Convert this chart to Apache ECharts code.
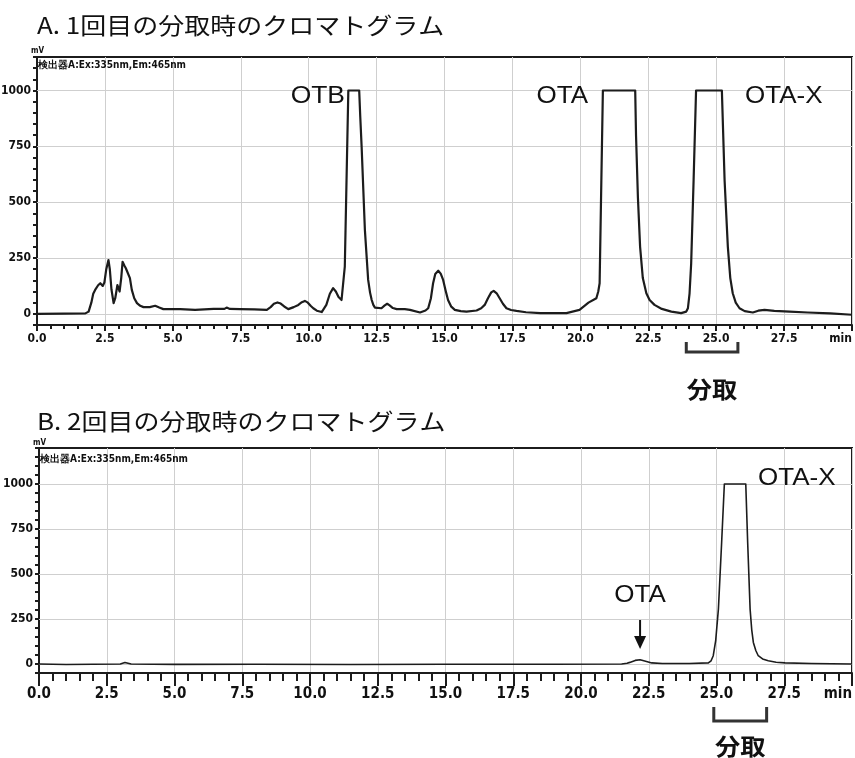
<!DOCTYPE html>
<html><head><meta charset="utf-8">
<script src="https://cdn.jsdelivr.net/npm/echarts@6/dist/echarts.min.js"></script>
<style>html,body{margin:0;padding:0;background:#fff}#c{width:855px;height:758px}</style>
</head><body><div id="c"></div>
<script>
// ---- data ----
const timesA = [0,1.0,1.78,1.9,2.0,2.07,2.14,2.25,2.33,2.42,2.48,2.55,2.63,2.68,2.74,2.82,2.88,2.96,3.04,3.1,3.15,3.22,3.27,3.33,3.42,3.49,3.58,3.68,3.8,3.92,4.15,4.35,4.5,4.65,5.27,5.82,6.5,6.9,6.98,7.1,7.47,8.0,8.46,8.6,8.72,8.85,8.97,9.1,9.25,9.45,9.62,9.75,9.86,9.97,10.08,10.17,10.3,10.48,10.55,10.65,10.78,10.9,11.0,11.1,11.21,11.33,11.46,11.86,11.9,11.95,12.07,12.19,12.26,12.32,12.38,12.44,12.68,12.8,12.89,12.98,13.1,13.24,13.54,13.73,14.1,14.3,14.4,14.5,14.58,14.66,14.77,14.86,14.95,15.04,15.13,15.25,15.38,15.6,15.81,16.18,16.35,16.48,16.6,16.72,16.81,16.92,17.03,17.15,17.28,17.45,17.65,18.0,18.53,19.49,19.97,20.3,20.59,20.66,20.71,20.76,20.83,22.02,22.05,22.12,22.2,22.3,22.43,22.55,22.73,23.0,23.35,23.71,23.9,23.96,24.02,24.08,24.17,24.26,25.21,25.31,25.43,25.52,25.61,25.72,25.86,26.05,26.35,26.55,26.78,27.14,27.7,28.37,29.2,30];
const signalA = [0,1,2,10,50,90,107,128,137,125,140,200,241,200,110,48,70,129,100,160,233,215,204,211,160,107,70,48,36,30,30,36,28,21,21,18,22,22,28,22,21,20,18,30,45,51,46,33,21,30,40,52,58,50,35,25,14,8,15,40,90,115,100,75,62,211,1000,1000,880,747,375,152,95,62,40,28,25,38,45,38,26,21,21,18,6,15,25,70,137,178,193,180,152,105,62,32,18,12,10,15,25,40,70,96,103,92,70,45,25,17,13,7,3,3,18,50,70,100,137,500,1000,1000,800,520,300,160,92,62,40,22,10,3,10,25,90,226,600,1000,1000,598,300,160,92,50,25,12,6,14,18,13,10,6,2,-4];
const timesB = [0,1.0,3.0,3.17,3.4,5.0,8.0,11.5,15.0,19.0,21.5,21.7,21.8,22.0,22.18,22.35,22.61,23.0,24.0,24.7,24.8,24.88,24.97,25.07,25.19,25.29,26.08,26.15,26.24,26.3,26.36,26.45,26.54,26.7,26.91,27.2,27.53,28.5,30];
const signalB = [0,-3,0,8,0,-2,-1,-3,-1,-1,0,4,9,20,24,17,6,3,3,6,18,46,130,305,676,1000,1000,676,305,190,120,75,46,28,18,10,6,3,0];
const yLabelValues = [0,250,500,750,1000];
const fractionA = [23.9,25.8];
const fractionB = [24.9,26.85];
const otaMarkerB = 22.18;
const titles = ['A. 1回目の分取時のクロマトグラム','B. 2回目の分取時のクロマトグラム'];
const detectorText = '検出器A:Ex:335nm,Em:465nm';
const unitText = 'mV';
const fractionText = '分取';
const peakNamesA = ['OTB','OTA','OTA-X'];
const peakNamesB = ['OTA','OTA-X'];

// ---- styles ----
const NARROW = "'Liberation Sans Narrow','DejaVu Sans Condensed',sans-serif";
const JP = "'Noto Sans CJK JP','Noto Sans',sans-serif";
const LAT = "'Liberation Sans','Noto Sans CJK JP',sans-serif";
const INK = '#1c1c1c';
const GRIDC = '#cfcfcf';

function pair(ts, vs){ return ts.map((t,i)=>[t,vs[i]]); }

function xAxisCfg(idx, tickLen, fontSize, margin){
  return {
    gridIndex: idx, type:'value', min:0, max:30, interval:2.5,
    axisLine:{show:true, onZero:false, lineStyle:{color:INK, width:2}},
    axisTick:{show:true, length:tickLen, lineStyle:{color:INK, width:2}},
    minorTick:{show:true, splitNumber:5, length:Math.max(4,tickLen-5), lineStyle:{color:INK, width:2}},
    minorSplitLine:{show:false},
    splitLine:{show:true, lineStyle:{color:GRIDC, width:1}},
    axisLabel:{
      fontFamily:NARROW, fontWeight:'bold', fontSize:fontSize, color:'#111', margin:margin,
      alignMaxLabel:'right',
      formatter: v => (Math.abs(v-30)<1e-6 ? 'min' : v.toFixed(1))
    }
  };
}
function yAxisCfg(idx, max, fontSize){
  return {
    gridIndex: idx, type:'value', min:-50, max:max, interval:50,
    axisLine:{show:true, onZero:false, lineStyle:{color:INK, width:2}},
    axisTick:{show:true, length:4, lineStyle:{color:INK, width:2}},
    splitLine:{show:false},
    axisLabel:{
      fontFamily:NARROW, fontWeight:'bold', fontSize:fontSize, color:'#111', margin:6,
      formatter: v => (yLabelValues.indexOf(v) >= 0 ? String(v) : '')
    }
  };
}
function gridLines(){
  return {
    silent:true, symbol:'none', label:{show:false},
    lineStyle:{color:GRIDC, width:1, type:'solid'},
    data: yLabelValues.map(v=>({yAxis:v}))
  };
}

const chart = echarts.init(document.getElementById('c'), null, {renderer:'canvas'});
const option = {
  animation:false,
  backgroundColor:'#fff',
  grid:[
    {left:37, right:3, top:57, height:268, show:true, borderColor:INK, borderWidth:2, backgroundColor:'transparent', containLabel:false, outerBoundsMode:'none'},
    {left:39, right:3, top:448, height:225, show:true, borderColor:INK, borderWidth:2, backgroundColor:'transparent', containLabel:false, outerBoundsMode:'none'}
  ],
  xAxis:[xAxisCfg(0,6,12,8), xAxisCfg(1,13,15,14)],
  yAxis:[yAxisCfg(0,1150,12), yAxisCfg(1,1200,12)],
  series:[
    {type:'line', xAxisIndex:0, yAxisIndex:0, data:[], z:1, markLine:gridLines()},
    {type:'line', xAxisIndex:1, yAxisIndex:1, data:[], z:1, markLine:gridLines()},
    {type:'line', xAxisIndex:0, yAxisIndex:0, data:pair(timesA,signalA), showSymbol:false, z:5,
     lineStyle:{color:INK, width:2.2, join:'round'}, silent:true},
    {type:'line', xAxisIndex:1, yAxisIndex:1, data:pair(timesB,signalB), showSymbol:false, z:5,
     lineStyle:{color:INK, width:1.6, join:'round'}, silent:true}
  ]
};
chart.setOption(option);

function txt(x,y,text,size,family,weight,align,sx){
  return {type:'text', x:x, y:y, z:20, scaleX:sx||1,
          style:{text:text, fontSize:size, fontFamily:family, fontWeight:weight||'normal', fill:'#111', align:align||'left', verticalAlign:'middle'}};
}
function bracket(gridIndex, range, yTop, yBot){
  const p0 = chart.convertToPixel({gridIndex:gridIndex}, [range[0],0]);
  const p1 = chart.convertToPixel({gridIndex:gridIndex}, [range[1],0]);
  return {type:'polyline', z:20, shape:{points:[[p0[0],yTop],[p0[0],yBot],[p1[0],yBot],[p1[0],yTop]]},
          style:{stroke:'#333', lineWidth:3, fill:null}};
}
const mA0 = chart.convertToPixel({gridIndex:0},[fractionA[0],0])[0];
const mA1 = chart.convertToPixel({gridIndex:0},[fractionA[1],0])[0];
const mB0 = chart.convertToPixel({gridIndex:1},[fractionB[0],0])[0];
const mB1 = chart.convertToPixel({gridIndex:1},[fractionB[1],0])[0];
const arrowX = chart.convertToPixel({gridIndex:1},[otaMarkerB,0])[0];

chart.setOption({graphic:[
  txt(37,25,titles[0],23,JP,'normal','left',1.13),
  txt(37,421,titles[1],23,JP,'normal','left',1.13),
  txt(31,51,unitText,8,NARROW,'bold'),
  txt(33,443,unitText,8,NARROW,'bold'),
  txt(38,65,detectorText,10,NARROW,'bold'),
  txt(40,459,detectorText,10,NARROW,'bold'),
  txt(345,97,peakNamesA[0],23,LAT,'normal','right',1.15),
  txt(588,97,peakNamesA[1],23,LAT,'normal','right',1.13),
  txt(745,97,peakNamesA[2],23,LAT,'normal','left',1.13),
  txt(640,596,peakNamesB[0],23,LAT,'normal','center',1.13),
  txt(758,479,peakNamesB[1],23,LAT,'normal','left',1.13),
  bracket(0,fractionA,342,352),
  bracket(1,fractionB,707,721),
  txt((mA0+mA1)/2,389,fractionText,23,JP,'bold','center',1.1),
  txt((mB0+mB1)/2,746,fractionText,23,JP,'bold','center',1.1),
  {type:'line', z:20, shape:{x1:arrowX,y1:620,x2:arrowX,y2:638}, style:{stroke:'#111', lineWidth:2}},
  {type:'polygon', z:20, shape:{points:[[arrowX-6,636],[arrowX+6,636],[arrowX,649]]}, style:{fill:'#111'}}
]});
</script>
</body></html>
